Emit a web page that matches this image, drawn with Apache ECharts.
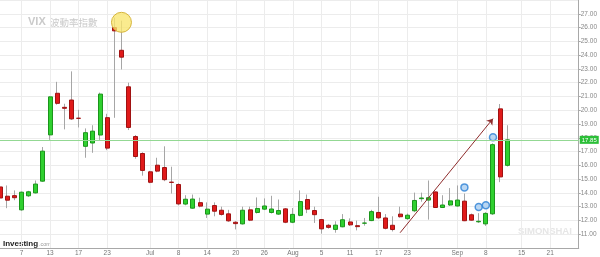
<!DOCTYPE html>
<html><head><meta charset="utf-8">
<script src="https://cdn.jsdelivr.net/npm/echarts@6/dist/echarts.min.js"></script>
<style>html,body{margin:0;padding:0;background:#fff}#c{width:600px;height:257px}</style>
</head><body><div id="c"></div>
<script>
// Trading days (VIX daily, 2016)
const dates = [
 'Jun 2','Jun 3','Jun 6','Jun 7','Jun 8','Jun 9','Jun 10','Jun 13','Jun 14','Jun 15','Jun 16','Jun 17','Jun 20','Jun 21','Jun 22','Jun 23','Jun 24','Jun 27','Jun 28','Jun 29','Jun 30',
 'Jul 1','Jul 5','Jul 6','Jul 7','Jul 8','Jul 11','Jul 12','Jul 13','Jul 14','Jul 15','Jul 18','Jul 19','Jul 20','Jul 21','Jul 22','Jul 25','Jul 26','Jul 27','Jul 28','Jul 29',
 'Aug 1','Aug 2','Aug 3','Aug 4','Aug 5','Aug 8','Aug 9','Aug 10','Aug 11','Aug 12','Aug 15','Aug 16','Aug 17','Aug 18','Aug 19','Aug 22','Aug 23','Aug 24','Aug 25','Aug 26','Aug 29','Aug 30','Aug 31',
 'Sep 1','Sep 2','Sep 6','Sep 7','Sep 8','Sep 9','Sep 12','Sep 13'
];
const futureDates = ['Sep 14','Sep 15','Sep 16','Sep 19','Sep 20','Sep 21','Sep 22','Sep 23','Sep 26','Sep 27'];
const opens = [
 14.43,13.76,13.80,12.77,13.79,14.00,14.85,18.21,21.23,20.21,20.74,19.42,17.38,17.62,18.20,19.46,26.00,24.35,21.70,18.09,16.86,
 15.53,16.01,15.84,14.78,14.61,13.19,12.89,13.29,12.46,13.08,12.74,12.48,11.87,11.75,12.77,12.58,12.82,12.58,12.46,12.84,
 11.87,12.37,13.52,12.72,12.06,11.65,11.35,11.54,11.89,11.62,11.80,11.99,12.58,12.18,11.65,12.46,12.13,12.70,13.58,13.48,14.07,12.94,13.12,
 13.05,13.40,12.41,11.90,11.75,12.48,20.10,16.00
];
const closes = [
 13.63,13.47,13.65,14.05,14.08,14.64,17.03,20.97,20.50,20.14,19.37,19.41,18.37,18.48,21.17,17.25,25.76,23.85,18.75,16.64,15.63,
 14.77,15.58,14.96,14.76,13.20,13.54,13.55,13.04,12.82,12.67,12.44,11.97,11.77,12.74,12.02,12.87,13.05,12.83,12.72,11.87,
 12.44,13.37,12.82,12.42,11.39,11.50,11.66,12.05,11.68,11.55,11.81,12.64,12.19,11.43,11.34,12.27,12.38,13.45,13.63,13.65,12.94,13.12,13.42,
 13.48,11.98,12.02,11.94,12.51,17.50,15.16,17.85
];
const lows = [
 13.40,12.89,13.47,12.70,13.70,13.95,14.80,17.85,20.40,18.61,19.30,18.75,16.55,16.91,17.85,17.10,19.45,22.96,18.56,16.48,15.25,
 14.70,15.50,14.85,13.95,13.10,13.10,12.85,12.95,12.18,12.30,12.35,11.90,11.35,11.70,11.95,12.50,12.75,12.50,12.40,11.80,
 11.80,12.30,12.53,11.82,11.04,11.40,11.11,11.50,11.60,11.28,11.62,11.95,12.10,11.35,11.20,12.20,12.05,12.60,13.36,12.06,12.90,12.90,13.05,
 13.00,11.95,11.98,11.82,11.60,12.40,14.78,15.91
];
const highs = [
 14.60,14.54,14.18,14.10,14.15,14.90,17.33,21.00,22.06,20.47,22.82,20.03,18.68,18.91,21.28,19.74,26.72,26.50,22.00,18.20,16.95,
 15.60,16.55,17.38,15.90,14.70,13.83,13.88,13.65,13.31,13.31,13.00,12.77,11.95,13.00,13.00,13.67,13.60,13.79,13.52,12.90,
 12.90,14.18,13.88,13.00,12.10,11.75,11.94,12.46,12.15,11.99,12.18,12.77,13.72,12.46,12.30,13.00,12.50,14.02,14.02,14.90,14.10,13.83,14.35,
 14.54,13.95,12.50,12.53,12.60,17.60,20.45,18.91
];
const tickLabels = {
 'Jun 7':'7','Jun 13':'13','Jun 17':'17','Jun 23':'23','Jul 1':'Jul','Jul 8':'8','Jul 14':'14','Jul 20':'20','Jul 26':'26',
 'Aug 1':'Aug','Aug 5':'5','Aug 11':'11','Aug 17':'17','Aug 23':'23','Sep 1':'Sep','Sep 8':'8','Sep 15':'15','Sep 21':'21'
};
const lastPrice = 17.85;
const markerDates = ['Sep 2','Sep 7','Sep 8','Sep 9'];
const markerValues = [14.4, 12.98, 13.1, 18.04];
const arrowFrom = ['Aug 22', 11.11];
const arrowTo = ['Sep 9', 19.39];
const highlight = ['Jun 27', 26.38];

const allDates = dates.concat(futureDates);
const isTick = (i, v) => tickLabels[v] !== undefined;
const wickData = dates.map((d, i) => [opens[i], closes[i], lows[i], highs[i]]);
const bodyData = dates.map((d, i) => [opens[i], closes[i], Math.min(opens[i], closes[i]), Math.max(opens[i], closes[i])]);

const chart = echarts.init(document.getElementById('c'), null, {renderer: 'canvas'});
chart.setOption({
  animation: false,
  textStyle: {fontFamily: 'Liberation Sans, Arial, sans-serif'},
  grid: {left: -0.6, top: -3.1, width: 584.4, height: 253.8, containLabel: false},
  xAxis: {
    type: 'category', data: allDates, boundaryGap: false,
    axisLine: {lineStyle: {color: '#a8a8a8'}},
    axisTick: {show: false},
    axisLabel: {interval: isTick, formatter: v => tickLabels[v] || '', fontSize: 6.5, color: '#777', margin: 2},
    splitLine: {show: true, interval: isTick, lineStyle: {color: '#ececec'}}
  },
  yAxis: {
    type: 'value', position: 'right', min: 10, max: 28, interval: 1,
    axisLine: {show: true, lineStyle: {color: '#a8a8a8'}},
    axisTick: {show: true, length: 2, lineStyle: {color: '#a8a8a8'}},
    axisLabel: {fontSize: 6.5, color: '#888', margin: 2, formatter: v => v.toFixed(2), showMinLabel: false, showMaxLabel: false},
    splitLine: {lineStyle: {color: '#ececec'}}
  },
  graphic: [
    {type: 'text', x: 28, y: 22, style: {text: 'VIX', font: 'bold 11px Liberation Sans, Arial, sans-serif', fill: '#cacaca', verticalAlign: 'middle'}},
    {type: 'text', x: 50, y: 22, style: {text: '波動率指數', font: '9.5px "Noto Sans CJK TC", sans-serif', fill: '#cacaca', verticalAlign: 'middle'}},
    {type: 'text', x: 3, y: 243.5, style: {text: 'Investing', font: 'bold 8px Liberation Sans, Arial, sans-serif', fill: '#222', verticalAlign: 'middle'}},
    {type: 'text', x: 39, y: 244.5, style: {text: '.com', font: '5.5px Liberation Sans, Arial, sans-serif', fill: '#999', verticalAlign: 'middle'}},
    {type: 'text', x: 518, y: 231, style: {text: 'SIMONSHAI', font: 'bold 9.5px Liberation Sans, Arial, sans-serif', fill: '#e6e6e6', verticalAlign: 'middle'}}
  ],
  series: [
    {
      type: 'candlestick', data: wickData, barWidth: 1, silent: true,
      itemStyle: {color: '#a6a6a6', color0: '#a6a6a6', borderColor: '#a6a6a6', borderColor0: '#a6a6a6', borderWidth: 1}
    },
    {
      type: 'candlestick', data: bodyData, barWidth: 4.5, silent: true,
      itemStyle: {color: '#2fd02f', color0: '#e01a1a', borderColor: '#1b951b', borderColor0: '#a01212', borderWidth: 1},
      markLine: {
        silent: true, symbol: ['none', 'none'],
        data: [
          {yAxis: lastPrice, lineStyle: {color: '#93d893', width: 1, type: 'solid'},
           label: {show: true, position: 'end', formatter: lastPrice.toFixed(2), backgroundColor: '#2cbf38', color: '#fff', fontSize: 6, padding: [1, 2], distance: 1}},
          [{coord: arrowFrom, symbol: 'none'},
           {coord: arrowTo, symbol: 'arrow', symbolSize: 6,
            lineStyle: {color: '#8e2b2b', width: 1, type: 'solid'}, label: {show: false}}]
        ]
      },
      markPoint: {
        silent: true,
        data: [{coord: highlight, symbol: 'circle', symbolSize: 20,
          itemStyle: {color: 'rgba(249,229,110,0.78)', borderColor: '#d5b43c', borderWidth: 1}, label: {show: false}}]
      }
    },
    {
      type: 'scatter', silent: true, symbol: 'circle', symbolSize: 7,
      data: markerDates.map((d, i) => [d, markerValues[i]]),
      itemStyle: {color: '#a9cdf0', borderColor: '#2b7fd4', borderWidth: 1.5}
    }
  ]
});
</script></body></html>
